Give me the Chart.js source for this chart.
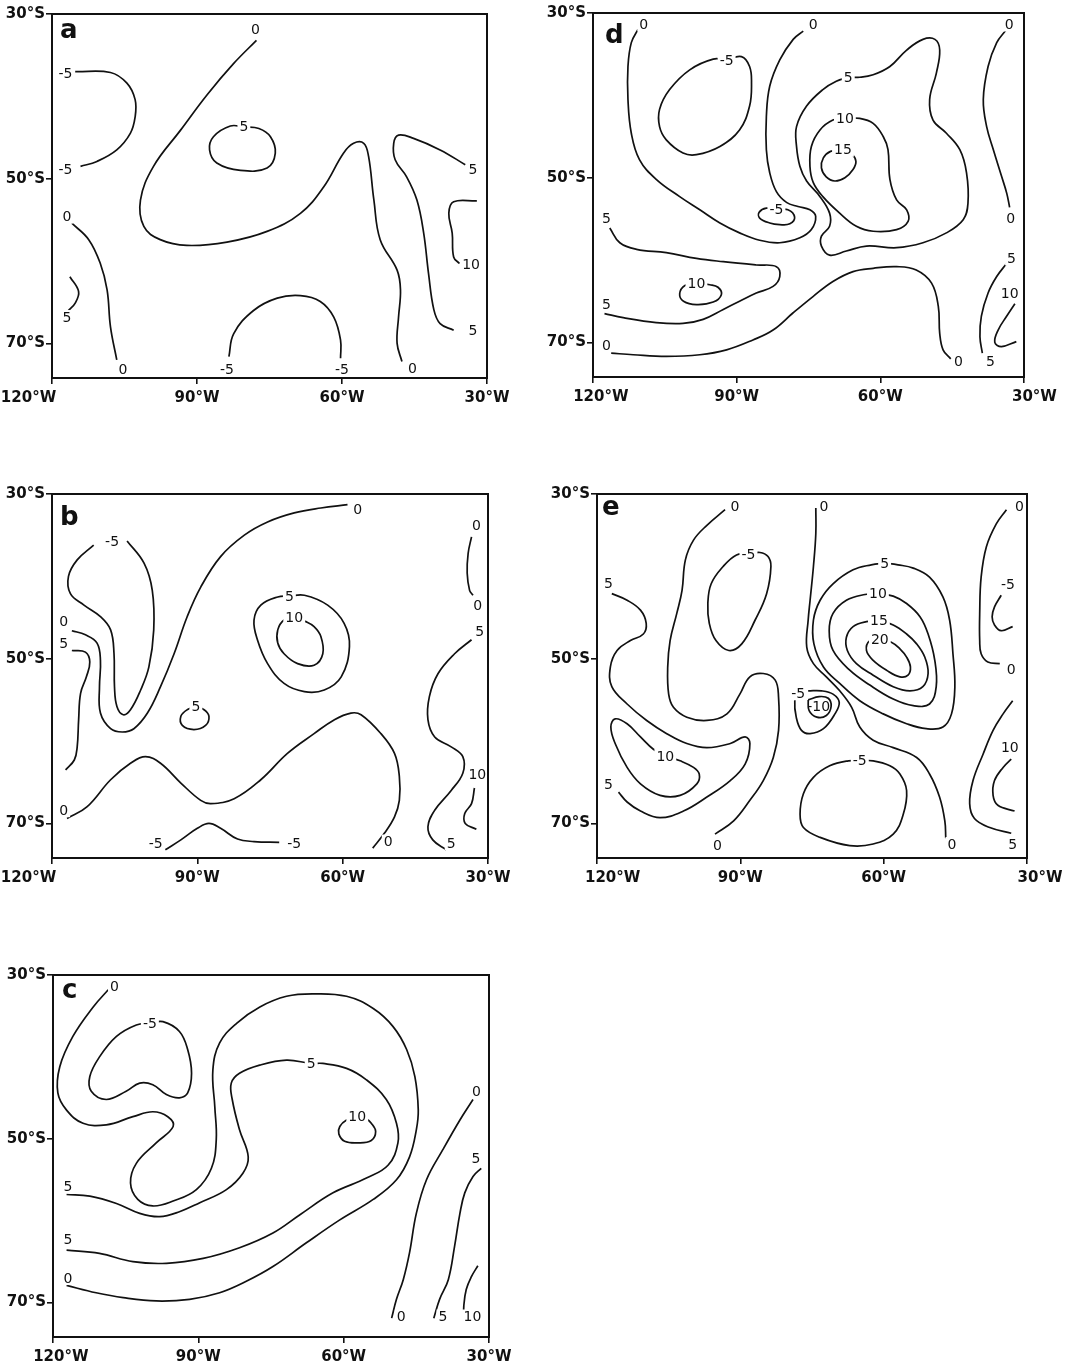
<!DOCTYPE html>
<html>
<head>
<meta charset="utf-8">
<script src="https://cdn.jsdelivr.net/npm/chart.js@4.4.1/dist/chart.umd.min.js"></script>
<style>
  html, body { margin: 0; padding: 0; background: #fff; width: 1070px; height: 1372px; overflow: hidden; }
  canvas { position: absolute; }
</style>
</head>
<body>
<canvas id="ca"></canvas>
<canvas id="cb"></canvas>
<canvas id="cc"></canvas>
<canvas id="cd"></canvas>
<canvas id="ce"></canvas>
<script>
/* Contour lines are lists of [longitude °W, latitude °S]; labels are [lon, lat, text, noBox]. */
const LON_TICKS = [120, 90, 60, 30];
const LAT_TICKS = [30, 50, 70];
const LAT_MIN = 30, LAT_MAX = 74.2, LON_MIN = 30, LON_MAX = 120;

/* ---------- panel a ---------- */
const A_LINES = [
  [[115.2,37.0],[107.9,37.1],[104.5,38.4],[102.8,40.4],[102.8,42.5],[103.8,44.5],[106.6,46.5],[110.7,47.9],[114.1,48.5]],
  [[77.7,33.2],[82.4,36.0],[87.9,39.8],[93.4,44.1],[99.0,48.5],[101.7,52.6],[101.0,55.8],[97.6,57.4],[92.1,58.1],[83.8,57.7],[75.5,56.4],[68.6,54.2],[63.8,51.0],[59.7,46.9],[57.6,45.7],[55.5,45.7],[54.5,47.3],[53.4,52.6],[52.1,57.4],[48.6,61.1],[47.9,63.5],[48.3,66.8],[48.6,70.0],[47.6,72.2]],
  [[80.3,43.7],[77.2,43.9],[74.8,44.9],[73.8,46.9],[75.5,48.7],[81.0,49.0],[85.9,48.1],[87.4,46.5],[86.6,44.9],[83.1,43.6],[80.3,43.7]],
  [[34.5,48.3],[39.7,46.5],[45.2,45.1],[48.3,44.7],[49.3,45.7],[49.0,47.7],[46.6,49.8],[44.5,52.6],[43.1,56.6],[42.1,61.5],[41.0,65.9],[39.7,67.6],[36.9,68.4]],
  [[32.1,52.7],[36.9,52.8],[37.9,54.2],[37.2,56.6],[36.9,59.5],[35.7,60.3]],
  [[115.9,55.4],[112.4,57.4],[110.0,60.3],[108.6,63.5],[107.9,68.0],[106.6,72.0]],
  [[116.3,61.9],[114.5,63.7],[115.2,65.1],[116.6,66.0]],
  [[83.4,71.6],[82.4,68.8],[78.3,66.0],[73.4,64.5],[68.6,64.2],[64.5,64.9],[61.7,66.8],[60.3,69.6],[60.3,71.8]]
];
const A_LABELS = [
  [117.2,37.2,'-5'],[117.2,48.9,'-5'],[77.9,31.9,'0'],[45.4,73.0,'0'],[80.3,43.7,'5'],[32.9,48.9,'5'],
  [32.9,68.4,'5'],[33.3,60.4,'10'],[116.9,54.6,'0'],[105.3,73.2,'0'],[116.9,66.8,'5'],[83.8,73.2,'-5'],[60.0,73.2,'-5']
];

/* ---------- panel b ---------- */
const B_LINES = [
  [[115.9,46.6],[113.1,47.1],[110.7,48.1],[110.0,50.2],[110.2,53.4],[110.0,56.6],[107.9,58.5],[105.5,58.9],[103.1,58.5],[100.3,56.6],[97.6,53.4],[94.8,49.4],[92.1,44.9],[89.3,41.3],[85.2,37.6],[80.3,35.0],[75.5,33.4],[70.0,32.3],[64.5,31.7],[59.0,31.3]],
  [[111.4,36.2],[114.8,38.0],[116.6,40.0],[116.2,42.1],[113.4,43.5],[110.0,44.9],[107.9,46.5],[107.2,49.4],[107.1,53.4],[106.6,55.8],[105.3,56.8],[103.8,56.2],[101.7,53.8],[100.0,51.0],[99.0,46.5],[99.3,41.7],[101.0,38.4],[104.5,35.7]],
  [[115.9,49.0],[113.1,49.2],[112.2,50.4],[112.9,52.2],[114.1,54.2],[114.5,57.4],[114.8,60.7],[115.4,62.3],[117.2,63.5]],
  [[90.3,55.8],[92.1,56.2],[93.4,57.0],[93.1,58.1],[90.7,58.6],[88.3,58.1],[87.6,57.0],[88.6,56.2],[90.3,55.8]],
  [[71.0,42.4],[73.4,42.5],[76.9,43.5],[78.3,45.3],[77.6,47.7],[75.5,50.6],[72.1,53.0],[67.9,54.0],[63.8,53.8],[60.3,52.2],[58.6,48.5],[59.7,45.7],[63.1,43.5],[67.9,42.3],[71.0,42.4]],
  [[70.0,45.0],[72.1,45.3],[73.4,46.5],[73.4,48.1],[72.1,49.4],[69.3,50.6],[65.9,50.8],[64.1,49.4],[64.5,47.3],[65.9,46.1],[67.6,45.5],[70.0,45.0]],
  [[116.9,69.4],[112.8,68.0],[107.9,64.7],[103.8,62.7],[100.7,61.9],[97.6,62.7],[93.4,65.1],[89.3,67.2],[87.2,67.6],[82.4,67.0],[76.9,64.7],[71.4,61.5],[65.9,59.1],[61.7,57.4],[58.3,56.6],[56.2,56.8],[52.1,59.1],[49.3,61.5],[48.3,64.3],[48.3,67.2],[49.3,69.2],[51.4,71.2],[53.8,73.0]],
  [[96.6,73.2],[93.4,72.0],[90.0,70.6],[87.6,70.0],[85.2,70.6],[81.7,71.9],[78.3,72.2],[73.1,72.3]],
  [[33.4,35.2],[34.1,37.2],[34.3,39.6],[33.8,41.7],[33.1,42.3]],
  [[33.4,47.7],[36.9,49.4],[40.3,51.8],[42.1,54.6],[42.4,57.4],[41.0,59.5],[37.6,60.7],[35.2,61.9],[35.2,63.9],[37.6,66.0],[41.0,68.4],[42.4,70.4],[41.4,72.0],[38.6,73.2]],
  [[32.8,65.7],[33.4,67.6],[34.8,68.8],[34.7,70.0],[32.4,70.7]]
];
const B_LABELS = [
  [117.6,45.5,'0'],[56.9,31.9,'0'],[107.6,35.8,'-5'],[117.6,48.1,'5'],[90.3,55.8,'5'],[71.0,42.4,'5'],
  [70.0,45.0,'10'],[117.6,68.4,'0'],[50.6,72.2,'0'],[98.6,72.4,'-5'],[70.0,72.4,'-5'],[32.4,33.8,'0'],
  [32.1,43.5,'0'],[31.7,46.7,'5'],[37.6,72.4,'5'],[32.2,64.0,'10']
];

/* ---------- panel c ---------- */
const C_LINES = [
  [[108.6,31.8],[111.7,33.9],[115.9,37.5],[118.6,41.2],[119.0,44.4],[117.2,46.5],[113.8,48.1],[109.0,48.3],[103.5,47.3],[99.4,46.7],[96.3,47.3],[95.2,48.5],[98.7,50.5],[102.8,53.0],[104.0,55.4],[102.5,57.4],[99.4,58.2],[95.2,57.6],[90.4,56.2],[87.3,53.6],[86.3,50.1],[86.6,46.1],[87.0,41.6],[85.6,38.3],[82.1,35.9],[77.3,33.9],[71.8,32.6],[66.3,32.3],[59.4,32.6],[53.9,34.1],[49.8,36.3],[47.0,39.1],[45.3,42.4],[44.6,46.5],[45.0,48.9],[46.4,52.2],[49.1,55.0],[53.9,57.4],[60.8,59.9],[67.7,62.7],[74.6,65.6],[80.1,67.4],[85.6,68.8],[91.8,69.6],[98.7,69.8],[105.5,69.4],[111.1,68.8],[117.2,67.9]],
  [[117.2,56.8],[112.4,57.0],[106.9,57.9],[102.1,59.1],[98.0,59.5],[93.9,58.9],[89.7,57.8],[84.2,56.2],[80.8,54.2],[79.7,52.2],[81.5,48.9],[83.0,45.2],[83.2,43.2],[81.5,42.0],[77.3,41.0],[71.8,40.4],[66.7,40.8],[64.3,40.8],[59.4,41.4],[55.3,42.8],[51.2,45.2],[49.1,48.1],[48.8,50.5],[50.8,53.2],[55.3,54.8],[62.2,56.6],[69.1,59.3],[74.6,61.5],[81.5,63.3],[89.0,64.6],[96.6,65.2],[103.5,65.0],[110.4,64.0],[117.2,63.6]],
  [[100.0,35.9],[102.8,36.1],[106.9,37.5],[110.4,40.0],[112.4,42.4],[112.1,44.2],[109.0,45.2],[104.9,44.2],[102.1,43.2],[99.4,43.4],[96.6,44.6],[93.9,45.0],[92.2,44.4],[91.4,42.0],[92.2,39.1],[93.9,36.9],[97.3,35.7],[100.0,35.9]],
  [[57.2,47.3],[59.4,47.7],[60.8,48.5],[61.0,49.4],[59.8,50.3],[57.0,50.5],[54.3,50.2],[53.4,49.1],[54.3,48.1],[55.3,47.6],[57.2,47.3]],
  [[33.3,45.2],[36.0,47.7],[39.5,51.3],[42.9,55.0],[45.0,59.1],[46.4,63.9],[47.7,67.2],[49.1,69.6],[50.1,71.9]],
  [[31.6,53.6],[33.3,54.6],[35.0,56.6],[36.0,59.1],[37.1,63.1],[38.4,67.2],[40.2,69.6],[41.4,71.9]],
  [[32.3,65.5],[33.6,66.8],[34.7,68.4],[35.2,70.4],[35.2,71.9]]
];
const C_LABELS = [
  [107.3,31.4,'0'],[116.9,67.0,'0'],[116.9,55.8,'5'],[116.9,62.3,'5'],[66.7,40.8,'5'],[100.0,35.9,'-5'],
  [57.2,47.3,'10'],[32.6,44.2,'0'],[48.1,71.7,'0'],[32.7,52.4,'5'],[39.5,71.7,'5'],[33.4,71.7,'10']
];

/* ---------- panel d ---------- */
const D_LINES = [
  [[110.6,32.0],[112.0,33.6],[112.7,36.5],[112.7,40.5],[112.0,44.6],[110.3,47.8],[106.8,50.2],[101.9,52.3],[97.7,53.9],[93.5,55.5],[89.4,56.7],[85.2,57.6],[81.0,57.9],[76.8,57.3],[74.4,56.3],[73.5,54.7],[74.7,53.9],[77.2,53.5],[79.6,53.0],[81.7,51.7],[83.1,49.4],[83.8,46.6],[83.8,42.6],[83.1,38.9],[81.0,35.7],[78.2,33.2],[76.1,32.2]],
  [[92.1,35.7],[94.9,35.6],[99.8,36.9],[104.0,39.3],[106.1,41.7],[106.1,43.8],[104.7,45.4],[101.2,47.0],[98.4,47.2],[93.5,46.2],[89.4,44.2],[87.3,41.3],[86.9,38.5],[87.3,36.5],[89.0,35.3],[92.1,35.7]],
  [[81.7,53.9],[83.8,53.7],[85.3,54.2],[85.2,54.9],[83.1,55.5],[81.0,55.7],[78.9,55.6],[77.9,54.8],[79.3,53.9],[81.7,53.9]],
  [[66.7,37.8],[64.3,37.8],[61.5,37.5],[58.0,36.5],[54.5,34.5],[51.1,33.2],[48.6,33.2],[47.6,34.5],[48.3,37.3],[49.7,40.5],[49.0,43.0],[46.2,44.6],[43.4,46.6],[42.0,49.4],[41.7,53.1],[42.7,55.1],[46.2,56.7],[51.1,57.9],[56.6,58.5],[62.9,58.3],[67.1,58.9],[70.6,59.4],[72.3,58.3],[72.3,57.1],[70.6,55.9],[70.6,54.3],[72.6,52.3],[75.4,50.4],[76.8,48.6],[77.5,46.2],[77.5,43.8],[75.4,41.3],[72.0,39.3],[69.2,38.3],[66.7,37.8]],
  [[67.4,42.8],[64.3,42.8],[61.5,43.4],[59.4,45.0],[58.4,46.6],[58.0,50.2],[56.6,52.7],[54.5,53.9],[54.2,55.3],[56.6,56.3],[61.5,56.5],[65.0,55.9],[68.5,54.3],[72.0,52.3],[74.0,50.6],[74.7,48.6],[74.4,46.2],[72.6,44.2],[69.9,43.0],[67.4,42.8]],
  [[67.8,46.6],[66.0,47.1],[65.1,48.0],[65.7,49.0],[67.4,50.0],[69.5,50.4],[71.3,49.9],[72.3,48.8],[71.9,47.6],[70.4,46.8],[67.8,46.6]],
  [[33.8,32.1],[35.7,33.6],[37.5,36.5],[38.5,40.5],[37.8,43.8],[36.4,46.6],[34.7,49.8],[33.6,51.9],[33.0,53.6]],
  [[116.5,56.1],[114.4,57.9],[110.9,58.7],[104.7,59.1],[98.4,59.8],[92.8,60.2],[85.9,60.6],[81.7,60.8],[81.0,62.0],[82.4,63.2],[85.9,64.0],[89.4,65.0],[92.8,66.0],[97.0,67.2],[101.2,67.7],[106.8,67.6],[113.7,67.0],[117.6,66.5]],
  [[98.4,62.8],[100.8,63.1],[101.9,64.1],[101.1,65.0],[98.4,65.4],[94.9,65.1],[93.2,64.2],[93.9,63.3],[95.6,63.0],[98.4,62.8]],
  [[116.2,71.3],[111.6,71.5],[104.7,71.7],[97.7,71.5],[92.1,70.9],[86.6,69.7],[82.4,68.5],[78.2,66.4],[74.0,64.4],[69.9,62.6],[65.7,61.4],[61.5,61.0],[56.6,60.8],[52.5,61.2],[49.3,62.8],[47.9,65.6],[47.6,68.9],[46.9,70.9],[45.3,72.0]],
  [[33.6,60.4],[35.7,62.0],[37.5,64.0],[38.9,66.8],[39.2,69.3],[38.7,71.3]],
  [[31.9,65.3],[33.6,66.8],[35.4,68.5],[36.1,70.0],[34.7,70.5],[31.6,69.9]]
];
const D_LABELS = [
  [109.4,31.4,'0'],[74.0,31.4,'0'],[92.1,35.7,'-5'],[81.7,53.9,'-5'],[66.7,37.8,'5'],[67.4,42.8,'10'],
  [67.8,46.6,'15'],[33.1,31.4,'0'],[32.8,54.9,'0'],[117.2,54.9,'5'],[117.2,65.4,'5'],[98.4,62.8,'10'],
  [117.2,70.3,'0'],[43.7,72.3,'0'],[32.6,59.8,'5'],[37.0,72.3,'5'],[33.0,64.0,'10']
];

/* ---------- panel e ---------- */
const E_LINES = [
  [[93.2,31.9],[97.0,33.8],[99.8,35.6],[101.5,38.0],[102.2,41.7],[103.3,44.5],[104.7,47.8],[105.2,51.0],[105.0,54.3],[104.0,55.9],[101.2,57.1],[97.0,57.5],[92.8,56.7],[90.1,54.3],[88.0,52.2],[85.2,51.8],[82.7,52.6],[82.0,54.7],[82.0,58.7],[83.1,62.0],[85.2,64.8],[88.0,67.2],[91.4,69.7],[95.3,71.3]],
  [[88.3,37.3],[90.8,37.4],[93.6,38.8],[96.1,40.9],[96.8,43.3],[96.5,45.7],[95.1,47.8],[92.4,49.0],[89.7,48.2],[86.9,45.3],[84.5,42.1],[83.6,38.8],[84.2,37.6],[85.9,37.1],[88.3,37.3]],
  [[116.9,42.1],[113.7,42.9],[110.9,44.1],[109.7,45.7],[110.3,47.0],[113.0,47.8],[115.8,49.0],[117.2,51.0],[116.9,53.4],[113.7,55.5],[109.6,57.5],[105.4,59.1],[101.2,60.3],[97.0,60.8],[92.1,60.3],[89.0,59.5],[88.0,60.3],[89.0,62.8],[92.1,64.8],[97.0,66.8],[101.9,68.5],[106.8,69.3],[110.9,68.5],[113.7,67.4],[115.5,66.2]],
  [[105.7,61.8],[108.2,61.0],[110.9,59.5],[113.7,57.9],[116.2,57.3],[117.1,58.3],[116.2,60.3],[113.7,63.2],[110.9,65.2],[106.8,66.6],[102.6,66.6],[99.1,65.2],[98.6,64.0],[99.8,63.2],[102.6,62.4],[105.7,61.8]],
  [[74.2,31.7],[74.2,34.8],[74.7,38.8],[75.4,42.9],[75.8,45.3],[76.1,48.6],[74.7,50.6],[72.0,52.2],[69.2,53.9],[66.7,55.9],[65.0,58.3],[62.2,59.9],[58.0,60.8],[53.1,62.0],[50.4,64.0],[48.3,66.8],[47.2,69.7],[47.0,71.8]],
  [[59.8,38.4],[62.6,38.6],[66.4,39.2],[70.6,40.9],[73.3,42.9],[74.7,45.3],[74.6,48.2],[72.6,51.0],[69.2,53.0],[65.0,55.1],[60.1,56.7],[55.2,57.9],[51.1,58.5],[47.6,58.3],[45.8,56.7],[45.1,53.4],[45.5,49.4],[46.2,45.3],[47.6,42.5],[50.4,40.1],[53.8,39.0],[57.0,38.6],[59.8,38.4]],
  [[61.2,42.1],[63.9,42.2],[67.8,42.9],[70.6,44.5],[71.4,46.6],[70.6,49.0],[67.1,51.4],[62.9,53.2],[58.0,54.9],[53.8,55.7],[50.4,55.5],[49.0,53.4],[49.3,50.2],[50.7,47.0],[52.4,44.9],[55.2,43.3],[58.0,42.4],[61.2,42.1]],
  [[61.0,45.4],[63.6,45.5],[66.4,46.1],[67.8,47.4],[67.6,49.0],[65.7,50.6],[62.2,52.0],[58.0,53.4],[54.5,53.9],[51.8,53.4],[50.7,51.8],[51.4,49.8],[53.1,48.2],[55.2,47.0],[58.0,45.9],[61.0,45.4]],
  [[60.8,47.7],[62.9,47.8],[63.6,49.0],[62.2,50.2],[59.4,51.4],[56.6,52.2],[54.9,52.0],[54.4,51.0],[55.2,49.8],[56.6,48.8],[58.4,48.0],[60.8,47.7]],
  [[77.9,54.2],[78.6,55.1],[78.3,57.1],[77.2,58.7],[75.4,59.1],[72.6,58.5],[70.2,56.7],[69.3,55.3],[70.6,54.3],[73.0,53.9],[75.8,53.9]],
  [[75.8,55.0],[75.6,56.3],[74.0,57.1],[72.0,56.9],[71.0,55.8],[71.6,54.8],[73.5,54.6],[75.8,55.0]],
  [[65.0,62.4],[67.4,62.4],[71.3,63.0],[74.7,64.4],[76.8,66.4],[77.5,68.9],[76.8,70.5],[73.3,71.7],[67.1,72.7],[62.2,72.5],[58.0,71.3],[55.9,68.9],[55.2,66.0],[56.6,64.0],[58.7,63.0],[62.2,62.4],[65.0,62.4]],
  [[34.3,31.9],[36.4,33.6],[38.5,36.4],[39.6,40.1],[39.9,44.5],[39.9,47.8],[39.6,49.4],[38.2,50.4],[35.7,50.6]],
  [[35.4,42.3],[36.8,43.7],[37.3,44.9],[36.8,45.9],[35.4,46.6],[33.0,46.1]],
  [[33.0,55.1],[35.0,56.7],[37.1,58.7],[39.2,61.6],[41.3,64.8],[42.0,67.6],[41.0,69.4],[37.8,70.5],[33.3,71.2]],
  [[33.3,62.2],[35.0,63.2],[36.8,64.8],[37.1,66.6],[36.1,67.8],[32.6,68.5]]
];
const E_LABELS = [
  [91.1,31.5,'0'],[94.8,72.7,'0'],[88.3,37.3,'-5'],[117.6,40.9,'5'],[117.6,65.2,'5'],[105.7,61.8,'10'],
  [72.5,31.5,'0'],[45.7,72.5,'0'],[59.8,38.4,'5'],[61.2,42.1,'10'],[61.0,45.4,'15'],[60.8,47.7,'20'],
  [77.9,54.2,'-5'],[73.6,55.8,'-10',1],[65.0,62.4,'-5'],[31.6,31.5,'0'],[33.3,51.3,'0'],[34.0,41.0,'-5'],
  [33.0,72.5,'5'],[33.6,60.8,'10']
];

/* ---------- layout of the five panels (page pixels of each frame) ---------- */
const PANELS = [
  { id: 'ca', letter: 'a', frame: [52, 14, 487, 378],   lines: A_LINES, labels: A_LABELS, letterPos: [8, 24], xShift: [-23, 0, 0, 0] },
  { id: 'cb', letter: 'b', frame: [52, 494, 488, 858],  lines: B_LINES, labels: B_LABELS, letterPos: [8, 31], xShift: [-23, 0, 0, 0] },
  { id: 'cc', letter: 'c', frame: [53, 975, 489, 1337], lines: C_LINES, labels: C_LABELS, letterPos: [9, 23], xShift: [9, 0, 0, 0] },
  { id: 'cd', letter: 'd', frame: [593, 13, 1024, 377], lines: D_LINES, labels: D_LABELS, letterPos: [12, 30], xShift: [8, 0, 0, 11] },
  { id: 'ce', letter: 'e', frame: [597, 494, 1027, 858],lines: E_LINES, labels: E_LABELS, letterPos: [5, 21], xShift: [16, 0, 0, 12] },
];

const INK = '#111';
const AXW = 70, PADT = 14, PADR = 42, XAH = 32, PADB = 2;
const TICK_FONT = { family: 'DejaVu Sans', weight: 'bold', size: 15 };
const LABEL_FONT = '14px "DejaVu Sans"';

const measure = document.createElement('canvas').getContext('2d');
measure.font = 'bold 15px "DejaVu Sans"';
const SPACE_W = measure.measureText(' ').width || 5.2;

function lonLabel(v, i, shifts) {
  const s = v + '°W';
  const sh = shifts[i] || 0;
  const n = Math.round(Math.abs(sh) * 2 / SPACE_W);
  return sh < 0 ? s + ' '.repeat(n) : ' '.repeat(n) + s;
}

function overlayPlugin(p) {
  return {
    id: 'overlay' + p.letter,
    afterDatasetsDraw(chart) {
      const { ctx, chartArea: a, scales: { x, y } } = chart;
      ctx.save();
      // contour values, each on a small white patch that breaks the line
      ctx.font = LABEL_FONT;
      ctx.textAlign = 'center';
      ctx.textBaseline = 'middle';
      p.labels.forEach(([lon, lat, txt, noBox]) => {
        const px = x.getPixelForValue(lon);
        const py = y.getPixelForValue(lat);
        const w = ctx.measureText(txt).width;
        if (!noBox) {
          ctx.fillStyle = '#fff';
          ctx.fillRect(px - w / 2 - 2, py - 7, w + 4, 14);
        }
        ctx.fillStyle = INK;
        ctx.fillText(txt, px, py + 1);
      });
      // frame
      ctx.strokeStyle = INK;
      ctx.lineWidth = 2;
      ctx.strokeRect(a.left, a.top, a.right - a.left, a.bottom - a.top);
      // panel letter
      ctx.font = 'bold 26px "DejaVu Sans"';
      ctx.textAlign = 'left';
      ctx.textBaseline = 'alphabetic';
      ctx.fillStyle = INK;
      ctx.fillText(p.letter, a.left + p.letterPos[0], a.top + p.letterPos[1]);
      ctx.restore();
    },
  };
}

function renderPanel(p) {
  const [L, T, R, B] = p.frame;
  const cv = document.getElementById(p.id);
  const w = AXW + (R - L) + PADR;
  const h = PADT + (B - T) + XAH + PADB;
  cv.width = w; cv.height = h;
  cv.style.left = (L - AXW) + 'px';
  cv.style.top = (T - PADT) + 'px';
  cv.style.width = w + 'px';
  cv.style.height = h + 'px';

  const datasets = p.lines.map((pts) => ({
    data: pts.map(([lon, lat]) => ({ x: lon, y: lat })),
    showLine: true,
    borderColor: INK,
    borderWidth: 1.7,
    pointRadius: 0,
    tension: 0.4,
    fill: false,
  }));

  const tickGrid = { display: true, drawOnChartArea: false, drawTicks: true, tickLength: 6, color: INK, lineWidth: 1.6 };

  new Chart(cv, {
    type: 'scatter',
    data: { datasets },
    options: {
      responsive: false,
      animation: false,
      layout: { padding: { left: 0, top: PADT, right: PADR, bottom: PADB } },
      plugins: { legend: { display: false }, tooltip: { enabled: false } },
      scales: {
        x: {
          type: 'linear', min: LON_MIN, max: LON_MAX, reverse: true,
          afterBuildTicks: (s) => { s.ticks = LON_TICKS.map((v) => ({ value: v })); },
          afterFit: (s) => { s.height = XAH; },
          grid: tickGrid,
          border: { display: false },
          ticks: { color: INK, font: TICK_FONT, padding: 5, autoSkip: false, maxRotation: 0,
                   callback: (v, i) => lonLabel(v, i, p.xShift) },
        },
        y: {
          type: 'linear', min: LAT_MIN, max: LAT_MAX, reverse: true,
          afterBuildTicks: (s) => { s.ticks = LAT_TICKS.map((v) => ({ value: v })); },
          afterFit: (s) => { s.width = AXW; },
          grid: tickGrid,
          border: { display: false },
          ticks: { color: INK, font: TICK_FONT, padding: 1, callback: (v) => v + '°S' },
        },
      },
    },
    plugins: [overlayPlugin(p)],
  });
}

PANELS.forEach(renderPanel);
</script>
</body>
</html>
